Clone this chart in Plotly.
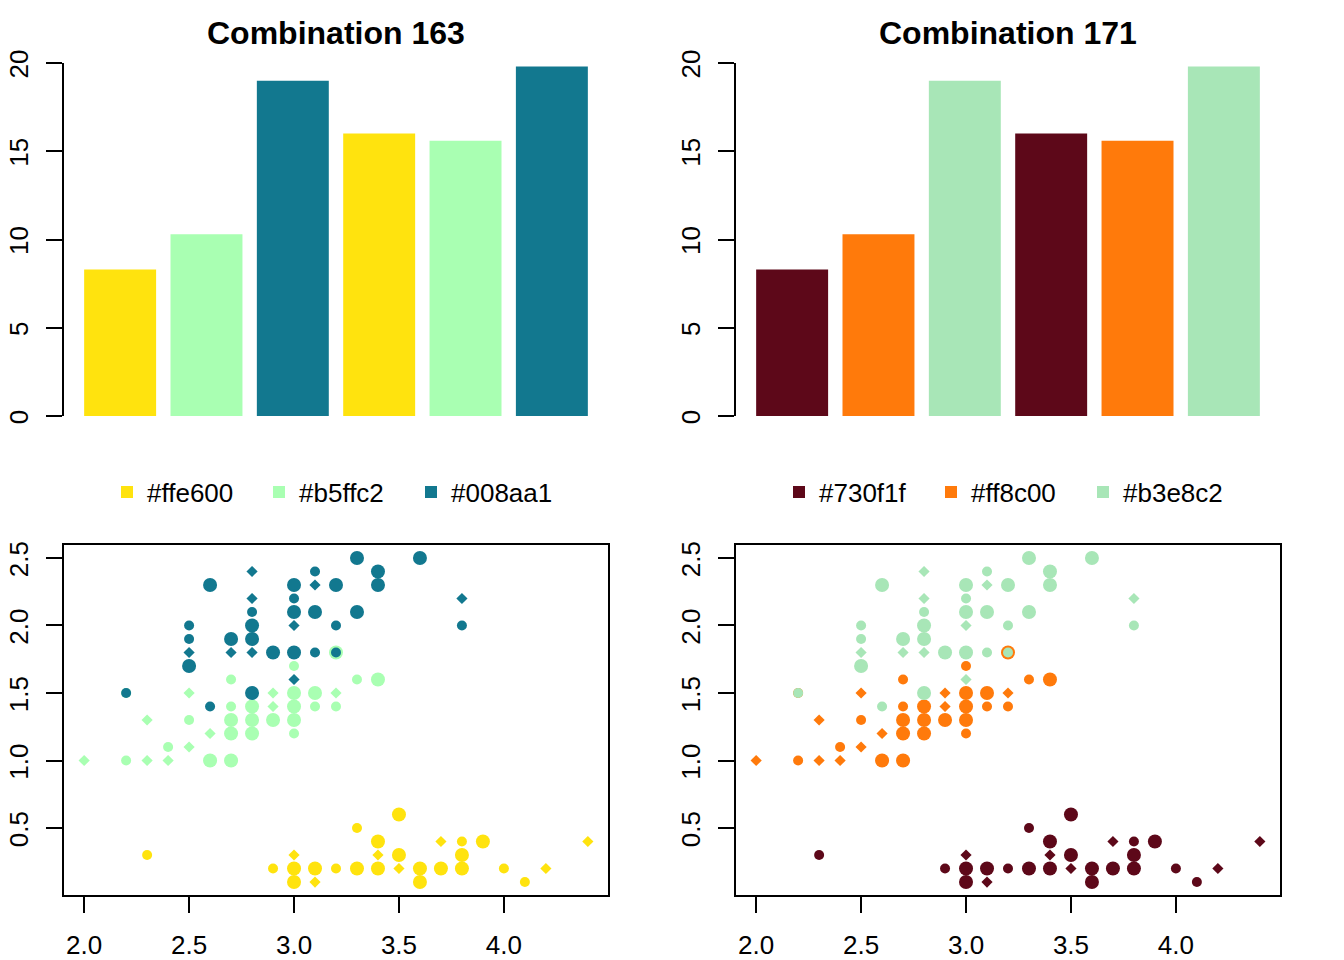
import plotly.graph_objects as go

# ---------------- data ----------------
bar_values = [8.3, 10.3, 19.0, 16.0, 15.6, 19.8]
bar_group = [0, 1, 2, 0, 1, 2]          # colour index of each bar

titles = ["Combination 163", "Combination 171"]
legend_labels = [["#ffe600", "#b5ffc2", "#008aa1"],
                 ["#730f1f", "#ff8c00", "#b3e8c2"]]

# scatter: Sepal width (x), Petal width (y), marker kind (B big circle, S small circle, D diamond)
setosa_x = [3.5, 3.3, 3.4, 3.7, 3.8, 3.9, 4.4, 2.3, 3.0, 3.4, 3.5, 3.8,
            2.9, 3.0, 3.1, 3.2, 3.3, 3.4, 3.5, 3.6, 3.7, 3.8, 4.0, 4.2,
            3.0, 3.1, 3.6, 4.1]
setosa_y = [0.6, 0.5, 0.4, 0.4, 0.4, 0.4, 0.4, 0.3, 0.3, 0.3, 0.3, 0.3,
            0.2, 0.2, 0.2, 0.2, 0.2, 0.2, 0.2, 0.2, 0.2, 0.2, 0.2, 0.2,
            0.1, 0.1, 0.1, 0.1]
setosa_k = ["B", "S", "B", "D", "S", "B", "D", "S", "D", "D", "B", "B",
            "S", "B", "B", "S", "B", "B", "D", "B", "B", "B", "S", "D",
            "B", "D", "B", "S"]

versicolor_x = [3.2, 3.0, 2.7, 3.3, 3.4, 2.2, 2.5, 2.9, 3.0, 3.1, 3.2,
                2.7, 2.8, 2.9, 3.0, 3.1, 3.2, 2.3, 2.5, 2.7, 2.8, 2.9, 3.0,
                2.6, 2.7, 2.8, 3.0, 2.4, 2.5, 2.0, 2.2, 2.3, 2.4, 2.6, 2.7]
versicolor_y = [1.8, 1.7, 1.6, 1.6, 1.6, 1.5, 1.5, 1.5, 1.5, 1.5, 1.5,
                1.4, 1.4, 1.4, 1.4, 1.4, 1.4, 1.3, 1.3, 1.3, 1.3, 1.3, 1.3,
                1.2, 1.2, 1.2, 1.2, 1.1, 1.1, 1.0, 1.0, 1.0, 1.0, 1.0, 1.0]
versicolor_k = ["B", "S", "S", "S", "B", "S", "D", "D", "B", "B", "D",
                "S", "B", "D", "B", "S", "S", "D", "S", "B", "B", "B", "B",
                "D", "B", "B", "S", "S", "D", "D", "S", "D", "D", "B", "B"]

virginica_x = [3.3, 3.6, 2.8, 3.1, 3.4, 2.6, 3.0, 3.1, 3.2, 3.4, 2.8, 3.0, 3.8,
               2.8, 3.0, 3.1, 3.3, 2.5, 2.8, 3.0, 3.2, 3.8, 2.5, 2.7, 2.8,
               2.5, 2.7, 2.8, 2.9, 3.0, 3.1, 3.2, 2.5, 3.0, 2.2, 2.8, 2.6]
virginica_y = [2.5, 2.5, 2.4, 2.4, 2.4, 2.3, 2.3, 2.3, 2.3, 2.3, 2.2, 2.2, 2.2,
               2.1, 2.1, 2.1, 2.1, 2.0, 2.0, 2.0, 2.0, 2.0, 1.9, 1.9, 1.9,
               1.8, 1.8, 1.8, 1.8, 1.8, 1.8, 1.8, 1.7, 1.6, 1.5, 1.5, 1.4]
virginica_k = ["B", "B", "D", "S", "B", "B", "B", "D", "B", "B", "D", "S", "D",
               "S", "B", "B", "B", "S", "B", "D", "S", "S", "S", "B", "B",
               "D", "D", "D", "B", "B", "S", "S", "B", "D", "S", "B", "S"]

x_ticks = [2.0, 2.5, 3.0, 3.5, 4.0]
y_ticks = [0.5, 1.0, 1.5, 2.0, 2.5]
bar_ticks = [0, 5, 10, 15, 20]

# ---------------- styles ----------------
palettes = [["#FFE30E", "#A9FFB2", "#12788F"],
            ["#5D0819", "#FF7A0B", "#A8E6B7"]]
kind_symbol = {"B": "circle", "S": "circle", "D": "diamond"}
kind_size = {"B": 14, "S": 10, "D": 8.6}
FONT = "Liberation Sans, Arial, Helvetica, sans-serif"
W, H = 1344, 960


def px_x(a, b):
    return [a / W, b / W]


def px_y(top, bottom):
    return [1 - bottom / H, 1 - top / H]


fig = go.Figure()
species = [(setosa_x, setosa_y, setosa_k),
           (versicolor_x, versicolor_y, versicolor_k),
           (virginica_x, virginica_y, virginica_k)]

bar_pos = [0.7 + 1.2 * i for i in range(len(bar_values))]

for p in range(2):
    xa = "x" if p == 0 else "x2"
    ya = "y" if p == 0 else "y2"
    leg = "legend" if p == 0 else "legend2"
    for g in range(3):
        xs = [bar_pos[i] for i in range(len(bar_values)) if bar_group[i] == g]
        ys = [bar_values[i] for i in range(len(bar_values)) if bar_group[i] == g]
        fig.add_trace(go.Bar(x=xs, y=ys, width=1.0, name=legend_labels[p][g],
                             marker=dict(color=palettes[p][g], line=dict(width=0)),
                             xaxis=xa, yaxis=ya, legend=leg, showlegend=True))
    sxa = "x3" if p == 0 else "x4"
    sya = "y3" if p == 0 else "y4"
    for g, (sx, sy, sk) in enumerate(species):
        fig.add_trace(go.Scatter(x=sx, y=sy, mode="markers", xaxis=sxa, yaxis=sya,
                                 showlegend=False,
                                 marker=dict(color=palettes[p][g], opacity=1,
                                             symbol=[kind_symbol[k] for k in sk],
                                             size=[kind_size[k] for k in sk],
                                             line=dict(width=0))))

tickfont = dict(family=FONT, size=26, color="black")
common_axis = dict(showgrid=False, zeroline=False, showline=True, linecolor="black",
                   linewidth=2, ticks="outside", ticklen=16, tickwidth=2,
                   tickcolor="black", tickfont=tickfont, automargin=False)

layout = dict(width=W, height=H,
              margin=dict(l=0, r=0, t=0, b=0, pad=0, autoexpand=False),
              autosize=False,
              paper_bgcolor="white", plot_bgcolor="white", barmode="overlay")

for p in range(2):
    off = 672 * p
    sx = "" if p == 0 else "2"
    layout["xaxis" + sx] = dict(domain=px_x(64 + off, 608 + off), range=[-0.08, 7.48],
                                visible=False, anchor="y" + sx)
    layout["yaxis" + sx] = dict(domain=px_y(63, 416), range=[0, 20], tickvals=bar_ticks,
                                tickangle=-90, anchor="x" + sx, ticklabelstandoff=8,
                                ticklabelshift=5, **common_axis)
    s2 = "3" if p == 0 else "4"
    layout["xaxis" + s2] = dict(domain=px_x(64 + off, 608 + off), range=[1.904, 4.496],
                                tickvals=x_ticks, tickformat=".1f", anchor="y" + s2,
                                mirror=True, ticklabelstandoff=10, **common_axis)
    layout["yaxis" + s2] = dict(domain=px_y(545, 895), range=[0.004, 2.596],
                                tickvals=y_ticks, tickformat=".1f", tickangle=-90,
                                anchor="x" + s2, mirror=True, ticklabelstandoff=8,
                                ticklabelshift=5, **common_axis)
    legname = "legend" if p == 0 else "legend2"
    layout[legname] = dict(orientation="h", x=(335 + off) / W, xanchor="center",
                           y=1 - 492 / H, yanchor="middle", font=dict(family=FONT, size=26, color="black"),
                           bgcolor="rgba(0,0,0,0)", borderwidth=0,
                           entrywidthmode="pixels", entrywidth=107, traceorder="normal")

fig.update_layout(**layout)

for p in range(2):
    off = 672 * p
    fig.add_annotation(text="<b>%s</b>" % titles[p], x=(336 + off) / W, y=1 - 33 / H,
                       xref="paper", yref="paper", showarrow=False, xanchor="center",
                       yanchor="middle", font=dict(family=FONT, size=32, color="black"))

fig.write_html("out.html")
